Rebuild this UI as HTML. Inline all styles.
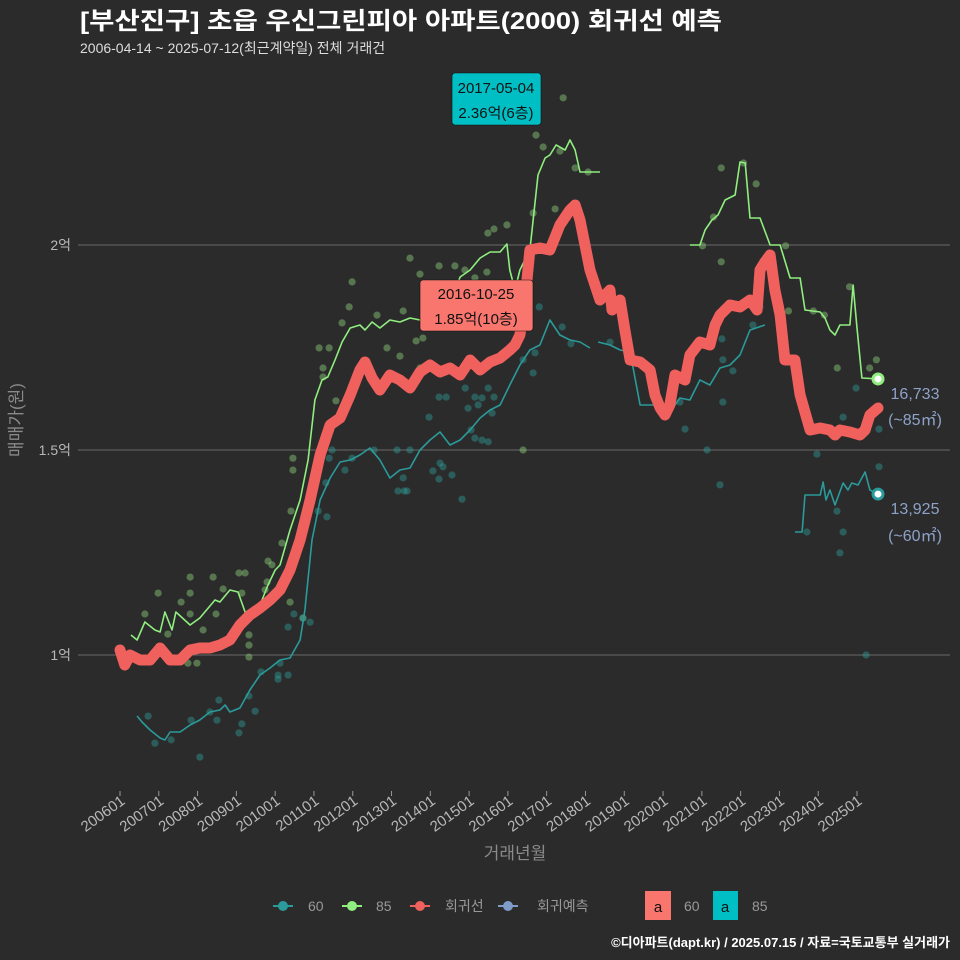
<!DOCTYPE html>
<html><head><meta charset="utf-8">
<style>
html,body{margin:0;padding:0;background:#2b2b2c;}
svg{display:block;font-family:"Liberation Sans","Noto Sans CJK KR",sans-serif;}
</style></head>
<body>
<svg id="chart" width="960" height="960" viewBox="0 0 960 960">
<rect x="0" y="0" width="960" height="960" fill="#2b2b2c"/>
<text x="80" y="29" fill="#ffffff" font-size="24" font-weight="bold" textLength="642" lengthAdjust="spacingAndGlyphs">[부산진구] 초읍 우신그린피아 아파트(2000) 회귀선 예측</text>
<text x="80" y="53" fill="#dddddd" font-size="14">2006-04-14 ~ 2025-07-12(최근계약일) 전체 거래건</text>
<g id="grid"></g>
<g id="yaxis"></g>
<g id="xaxis"></g>
<g id="dots"></g>
<g id="lines"></g>
<g id="ann"></g>
<text x="515" y="859" fill="#8a8a8a" font-size="17" text-anchor="middle">거래년월</text>
<text transform="translate(22,420) rotate(-90)" fill="#8a8a8a" font-size="17" text-anchor="middle">매매가(원)</text>
<g font-size="14" fill="#999">
  <g>
    <line x1="273" y1="906" x2="293" y2="906" stroke="#2b9a9a" stroke-width="2"/><circle cx="283" cy="906" r="5" fill="#2b9a9a"/>
    <text x="308" y="911">60</text></g>
  <g>
    <line x1="342" y1="906" x2="362" y2="906" stroke="#90ee7e" stroke-width="2"/><circle cx="352" cy="906" r="5" fill="#90ee7e"/>
    <text x="376" y="911">85</text></g>
  <g>
    <line x1="410" y1="906" x2="430" y2="906" stroke="#f0605d" stroke-width="2"/><circle cx="420" cy="906" r="5" fill="#f0605d"/>
    <text x="445" y="911">회귀선</text></g>
  <g>
    <line x1="498" y1="906" x2="518" y2="906" stroke="#7f9cc8" stroke-width="2"/><circle cx="508" cy="906" r="5" fill="#7f9cc8"/>
    <text x="537" y="911">회귀예측</text></g>
  <g>
    <rect x="645" y="891" width="26" height="29" fill="#f8766d"/><text x="658" y="912" fill="#111" font-size="15" text-anchor="middle">a</text>
    <text x="684" y="911">60</text></g>
  <g>
    <rect x="713" y="891" width="25" height="29" fill="#00bfc4"/><text x="725" y="912" fill="#111" font-size="15" text-anchor="middle">a</text>
    <text x="752" y="911">85</text></g>
</g>
<text x="950" y="947" fill="#ffffff" font-size="13" font-weight="bold" text-anchor="end">©디아파트(dapt.kr) / 2025.07.15 / 자료=국토교통부 실거래가</text>
</svg>
<script>
// months since 2006-01, values in 만원
const regM = [0,1.5,3.1,6.2,9.3,12.4,15.5,18.6,21.7,24.7,27.8,30.9,34,37.1,40.2,43.3,46.4,49.5,52.6,55.7,58.8,61.9,65,68.1,71.2,74.2,75.8,78,80.4,83.5,86.6,89.7,92.8,95.9,99,102.1,105.2,108.3,111.4,114.5,117.6,120.6,122.2,123.7,125.3,126.8,129.9,133,136.1,139.2,140.8,142.3,145.4,148.5,151.6,152.2,154.7,156.2,157.8,160.9,164,165.5,167.1,168.6,170.1,171.7,174.8,176.3,179.4,182.5,184.1,185.6,188.7,191.8,194.9,197.1,198,199.5,201.1,202.6,204.2,205.7,208.8,210.4,213.5,216.6,219.6,221.2,222.7,225.8,228.9,230.5,232,234.5];
const regV = [10122,9756,10000,9878,9878,10171,9878,9878,10122,10171,10171,10244,10366,10732,10976,11146,11341,11585,12073,12805,13780,14878,15610,15780,16341,16951,17146,16756,16463,16829,16707,16512,16902,17073,16902,17000,16829,17195,16951,17146,17244,17439,17561,17805,18659,19878,19927,19878,20488,20854,20976,20610,19390,18659,18902,18415,18659,17927,17195,17146,16951,16341,16024,15854,16098,16829,16707,17317,17634,17561,18049,18293,18537,18488,18659,18415,19390,19585,19756,18902,18293,17195,17195,16341,15488,15537,15488,15366,15488,15439,15366,15488,15854,16024];

const g85aM = [3.4,5.3,7.7,10.8,12.4,13.9,16.1,17.3,21.7,24.7,29.4,30.9,34,36.5,38.7,41.8,43.3,45.8,48,49.5,52.6,55.7,58.2,60.3,62.5,64.3,66.5,68.7,71.2,74.2,75.8,78,80.4,83.5,86.6,89.7,92.8,95.9,99,102.1,105.2,108.3,111.4,114.5,117.6,119.7,120.6,122.2,123.7,126.8,129.3,131.5,133,134.9,137.7,139.2,140.8,142.3,148.5];
const g85aV = [10488,10366,10805,10610,10561,11049,10610,11049,10732,10902,11341,11293,11585,11537,11049,10927,11220,11707,12073,12195,13049,13780,14756,16220,16707,16780,17195,17634,17976,18049,17927,18122,17976,18171,18122,18220,18171,18415,18415,18537,19220,19390,19683,19829,19829,20024,19390,18902,19390,19878,21707,22122,22195,22439,22317,22561,22317,21780,21780];
const g85bM = [176.3,179.4,181,183.1,185,187.2,190.3,191.8,193.4,194.9,198,201.1,204.2,207.3,210.4,211.9,216.6,218.1,219.6,221.2,222.7,225.8,226.8,228,229.5,234.5];
const g85bV = [20000,20000,20366,20610,20732,21098,21220,22024,22000,20659,20659,20000,20000,19195,19195,18415,18366,18220,17927,17805,18049,18049,19024,17976,16756,16733];

const t60aM = [5.3,6.8,9.3,12.4,13.9,15.5,18.6,21.7,24.7,27.8,30.9,32.5,34,37.1,40.2,43.3,46.4,49.5,52.6,55.7,57.2,59.4,61.9,65,68.1,71.2,74.2,77.3,80.4,83.5,86.6,89.7,92.8,95.9,99,102.1,105.2,108.3,111.4,114.5,117.6,120.6,123.7,126.8,129.9,133,136.1,139.2,142.3,145.4];
const t60aV = [8512,8366,8171,7976,7927,8122,8122,8293,8415,8610,8659,8780,8610,8707,9146,9512,9683,9878,9927,10366,11098,12805,13780,14317,14707,14756,14878,15049,14756,14317,14512,14561,15000,15244,15439,15122,15244,15488,15780,15976,16098,16585,17073,17439,17561,18171,17805,17683,17634,17488];
const t60bM = [147.9,151.6,154.7,157.8,160.9,167.1,170.1,171.7,173.2,176.3,179.4,182.5,185.6,188.7,191.8,194.9,199.5];
const t60bV = [17634,17561,17439,17390,16098,16098,15976,16098,16268,16220,16707,16585,17000,17073,17317,17927,18049];
const t60cM = [208.8,211,211.9,216.6,217.5,218.4,219.6,221.2,223.7,225.2,226.4,228.3,230.5,232,234.5];
const t60cV = [13000,13000,13902,13902,14220,13780,14024,13659,14195,14024,14195,14146,14463,14024,13925];

const dot85M = [7.7,11.8,18.9,21.7,21.7,21.7,25.7,28.8,29.7,31.9,36.8,38.7,37.7,14.8,21,23.8,39.9,39.9,39.9,45.8,47,45.5,44.9,52.6,56.6,50.1,53.5,53.5,52.9,61.6,64.7,62.8,62.8,66.8,68.7,70.9,71.8,79.5,82.6,86.6,87.6,89.7,92.8,98.7,103.6,106.7,109.8,113.5,113.8,115.7,119.7,91.6,93.7,92.8,127.8,134.6,128.7,130.9,136.1,140.8,144.8,137.1,124.7,180.2,183.6,186,192.9,196.8,205.9,186,206.8,214.5,217.9,221.9,225.7,231.9,234];
const dot85V = [11000,11510,11290,11900,11510,11000,10610,11900,11000,11610,12000,12000,11510,10510,9800,9800,10490,10240,9950,12290,12200,11780,11590,11290,10900,12730,14800,14510,13510,17490,17490,17000,16780,16200,18100,18490,19100,18290,17490,17290,18390,19680,19290,19490,19490,19390,19200,19340,20290,20390,20490,17660,17730,17000,20780,20880,22680,22390,22290,21880,21780,23590,15000,19980,20680,21880,22000,21490,19980,19590,18390,18390,18290,17000,18980,17000,17200];
const dot60M = [129.7,136.8,127.8,113.9,115.7,106.8,109.8,112,107.7,110.8,115.1,98.7,100.9,95.6,108.6,109.8,112,113.9,99,99.9,102.7,96.8,98.7,105.8,86,87.9,88.8,87.6,85.7,89.7,78.6,71.8,69.6,65.6,64.7,63.7,61.3,64,139.5,124.7,128.4,151.6,174.8,181.6,185.6,186.5,186.2,186.5,189.6,195.8,198,215.6,227.7,223.7,234.8,234.8,212.5,221.8,223.7,222.7,173.2,230.8,8.7,10.8,15.8,24.7,22,27.8,30,30.6,36.8,37.7,39.9,41.8,43.6,48.9,48.9,52,49.5,52,53.8,56.6,58.8];
const dot60V = [18490,18000,16880,16510,16290,16510,16290,16270,16020,16100,15900,16290,16290,15800,15490,15290,15240,15200,14680,14590,14390,14490,14290,13800,14000,14000,14000,14320,15000,15000,15000,14800,14510,15000,14800,14200,13510,13370,17590,17200,17370,17630,15510,15000,14150,17200,17710,16170,16930,18050,18490,14900,16510,15800,15510,14590,13000,13510,13000,12490,16170,10000,8510,7850,7930,7510,8410,8610,8410,8900,8100,8320,9000,8630,9590,9510,9410,9510,9800,10680,11000,10900,10800];

const yTicks = [10000,15000,20000];
const yTickLabels = ["1억","1.5억","2억"];
const xTickLabels = ["200601","200701","200801","200901","201001","201101","201201","201301","201401","201501","201601","201701","201801","201901","202001","202101","202201","202301","202401","202501"];

const NS = "http://www.w3.org/2000/svg";
function X(m){ return 120 + m * 3.2325; }
function Y(v){ return 655 - (v - 10000) * 0.041; }
function mk(tag, attrs, parent){ const e=document.createElementNS(NS,tag); for(const k in attrs) e.setAttribute(k,attrs[k]); parent.appendChild(e); return e; }

const grid=document.getElementById('grid'), yax=document.getElementById('yaxis'), xax=document.getElementById('xaxis');
yTicks.forEach((v,i)=>{
  const l=mk('line',{x1:78,x2:950,y1:Y(v),y2:Y(v),stroke:'#6a6a6a','stroke-width':1.1},grid);
  
  
  const t=mk('text',{x:71,y:Y(v)+5,fill:'#b8b8b8','font-size':14,'text-anchor':'end'},yax);
  t.textContent=yTickLabels[i];
  
  
});
xTickLabels.forEach((s,i)=>{
  const x=X(i*12);
  const tk=mk('line',{x1:x,x2:x,y1:791,y2:796,stroke:'#999','stroke-width':1},xax);
  
  
  const t=mk('text',{transform:`translate(${x+6},803) rotate(-36)`,fill:'#b8b8b8','font-size':15,'text-anchor':'end'},xax);
  t.textContent=s;
  
  
});

const dots=document.getElementById('dots');
dot85M.forEach((m,i)=>{
  const c=mk('circle',{cx:X(m),cy:Y(dot85V[i]),r:3.6,fill:'#8fd07a','fill-opacity':0.45},dots);
  
  
});
dot60M.forEach((m,i)=>{
  const c=mk('circle',{cx:X(m),cy:Y(dot60V[i]),r:3.6,fill:'#2f9b94','fill-opacity':0.45},dots);
  
  
});

const lines=document.getElementById('lines');
function pts(M,V){ return M.map((m,i)=>X(m).toFixed(1)+','+Y(V[i]).toFixed(1)).join(' '); }
[[t60aM,t60aV],[t60bM,t60bV],[t60cM,t60cV]].forEach(s=>{
  const p=mk('polyline',{points:pts(s[0],s[1]),fill:'none',stroke:'#2b9a9a','stroke-width':1.6,'stroke-linejoin':'round'},lines);
  
  
});
[[g85aM,g85aV],[g85bM,g85bV]].forEach(s=>{
  const p=mk('polyline',{points:pts(s[0],s[1]),fill:'none',stroke:'#90ee7e','stroke-width':1.6,'stroke-linejoin':'round'},lines);
  
  
});
const rl=mk('polyline',{points:pts(regM,regV),fill:'none',stroke:'#f0605d','stroke-width':11,'stroke-linejoin':'round','stroke-linecap':'round'},lines);



const ann=document.getElementById('ann');
const e85=mk('circle',{cx:X(g85bM[g85bM.length-1]),cy:Y(g85bV[g85bV.length-1]),r:5,fill:'#fff',stroke:'#90ee7e','stroke-width':3},ann);


const e60=mk('circle',{cx:X(t60cM[t60cM.length-1]),cy:Y(t60cV[t60cV.length-1]),r:5,fill:'#fff',stroke:'#2b9a9a','stroke-width':3},ann);


function txt(x,y,s,name,extra){ const t=mk('text',Object.assign({x:x,y:y},extra),ann); t.textContent=s;   return t; }
const lab={fill:'#8ea2c8','font-size':16,'text-anchor':'middle'};
txt(915,399,'16,733','end-label-85-value',lab);
txt(915,425,'(~85㎡)','end-label-85-area',lab);
txt(915,514,'13,925','end-label-60-value',lab);
txt(915,541,'(~60㎡)','end-label-60-area',lab);

const b1=mk('rect',{x:452,y:73,width:89,height:52,rx:3,fill:'#00bfc4',stroke:'#111','stroke-width':0.6},ann);


txt(496,93,'2017-05-04','max-label-85-date',{fill:'#111','font-size':15,'text-anchor':'middle'});
txt(496,118,'2.36억(6층)','max-label-85-price',{fill:'#111','font-size':15,'text-anchor':'middle'});
const b2=mk('rect',{x:420,y:280,width:113,height:51,rx:3,fill:'#f8766d',stroke:'#111','stroke-width':0.6},ann);


txt(476,299,'2016-10-25','max-label-60-date',{fill:'#111','font-size':15,'text-anchor':'middle'});
txt(476,324,'1.85억(10층)','max-label-60-price',{fill:'#111','font-size':15,'text-anchor':'middle'});
</script>
</body></html>
